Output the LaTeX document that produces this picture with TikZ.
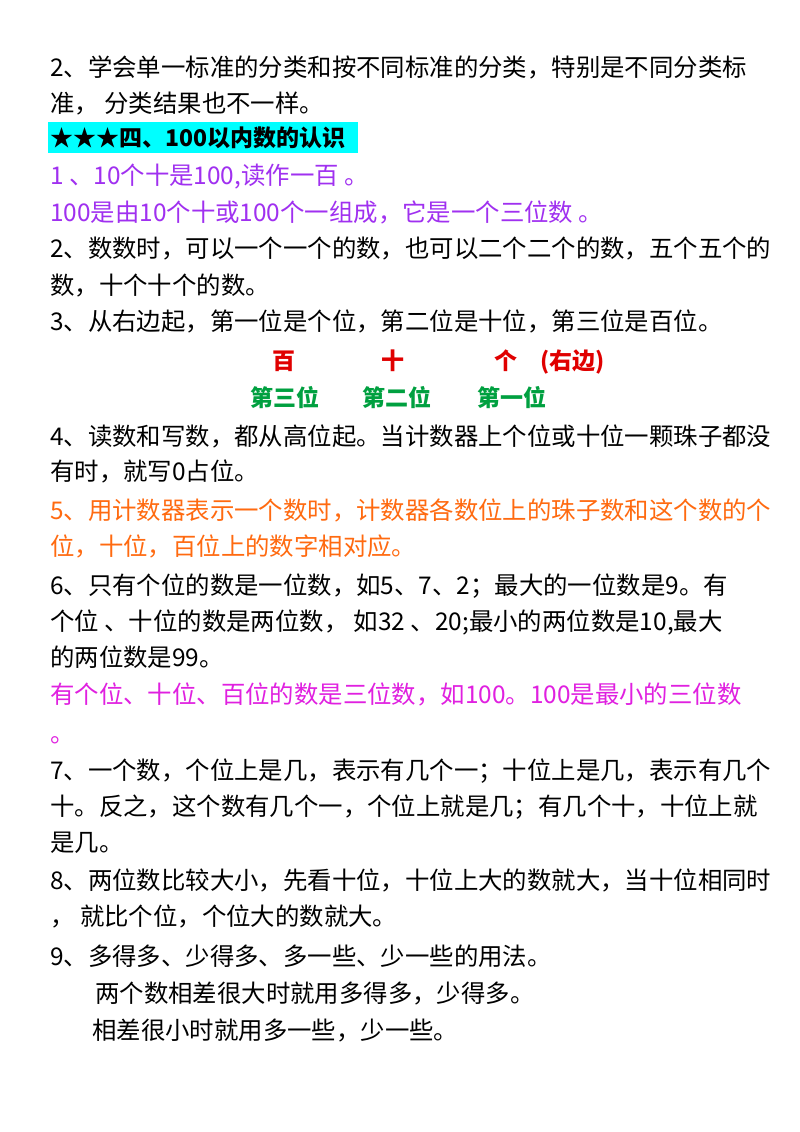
\documentclass[tikz,border=0pt]{standalone}
\usepackage{fontspec}
\setmainfont{Noto Sans CJK SC}
\definecolor{vio}{HTML}{A030F0}
\definecolor{org}{HTML}{FF6A10}
\definecolor{mag}{HTML}{E020E0}
\definecolor{rd}{HTML}{E00000}
\definecolor{gr}{HTML}{00A040}
\definecolor{cy}{HTML}{00FFFF}
\begin{document}
\begin{tikzpicture}[x=1pt,y=-1pt,
  ln/.style={anchor=base west,inner sep=0pt,font=\fontsize{24.4}{24}\selectfont},
  hd/.style={anchor=base west,inner sep=0pt,font=\fontsize{23}{23}\selectfont\bfseries}]
\useasboundingbox[fill=white] (0,0) rectangle (800,1132);
\fill[cy] (48,122) rectangle (358,153);
\node[ln] (l1) at (50,77) {2、学会单一标准的分类和按不同标准的分类，特别是不同分类标};
\node[ln] (l2) at (50,112) {准， 分类结果也不一样。};
\node[hd] (h) at (50,146) {★★★四、100以内数的认识};
\node[ln,text=vio] (l3) at (50,184) {1 、10个十是100,读作一百 。};
\node[ln,text=vio] (l4) at (50,221) {100是由10个十或100个一组成，它是一个三位数 。};
\node[ln] (l5) at (50,257) {2、数数时，可以一个一个的数，也可以二个二个的数，五个五个的};
\node[ln] (l6) at (50,294) {数，十个十个的数。};
\node[ln] (l7) at (50,330) {3、从右边起，第一位是个位，第二位是十位，第三位是百位。};
\node[hd,text=rd] (b) at (272,369) {百};
\node[hd,text=rd] (s) at (381,369) {十};
\node[hd,text=rd] (g) at (494,369) {个};
\node[hd,text=rd] (r) at (540,369) {(右边)};
\node[hd,text=gr] (p3) at (250,406) {第三位};
\node[hd,text=gr] (p2) at (362,406) {第二位};
\node[hd,text=gr] (p1) at (477,406) {第一位};
\node[ln] (l8) at (50,445) {4、读数和写数，都从高位起。当计数器上个位或十位一颗珠子都没};
\node[ln] (l9) at (50,480) {有时，就写0占位。};
\node[ln,text=org] (l10) at (50,519) {5、用计数器表示一个数时，计数器各数位上的珠子数和这个数的个};
\node[ln,text=org] (l11) at (50,555) {位，十位，百位上的数字相对应。};
\node[ln] (l12) at (50,594) {6、只有个位的数是一位数，如5、7、2；最大的一位数是9。有};
\node[ln] (l13) at (50,630) {个位 、十位的数是两位数， 如32 、20;最小的两位数是10,最大};
\node[ln] (l14) at (50,666) {的两位数是99。};
\node[ln,text=mag] (l15) at (50,703) {有个位、十位、百位的数是三位数，如100。100是最小的三位数};
\node[ln,text=mag] (l16) at (50,742) {。};
\node[ln] (l17) at (50,779) {7、一个数，个位上是几，表示有几个一；十位上是几，表示有几个};
\node[ln] (l18) at (50,815) {十。反之，这个数有几个一，个位上就是几；有几个十，十位上就};
\node[ln] (l19) at (50,851) {是几。};
\node[ln] (l20) at (50,889) {8、两位数比较大小，先看十位，十位上大的数就大，当十位相同时};
\node[ln] (l21) at (50,925) {， 就比个位，个位大的数就大。};
\node[ln] (l22) at (50,965) {9、多得多、少得多、多一些、少一些的用法。};
\node[ln] (l23) at (95,1002) {两个数相差很大时就用多得多，少得多。};
\node[ln] (l24) at (92,1039) {相差很小时就用多一些，少一些。};
\end{tikzpicture}
\end{document}
